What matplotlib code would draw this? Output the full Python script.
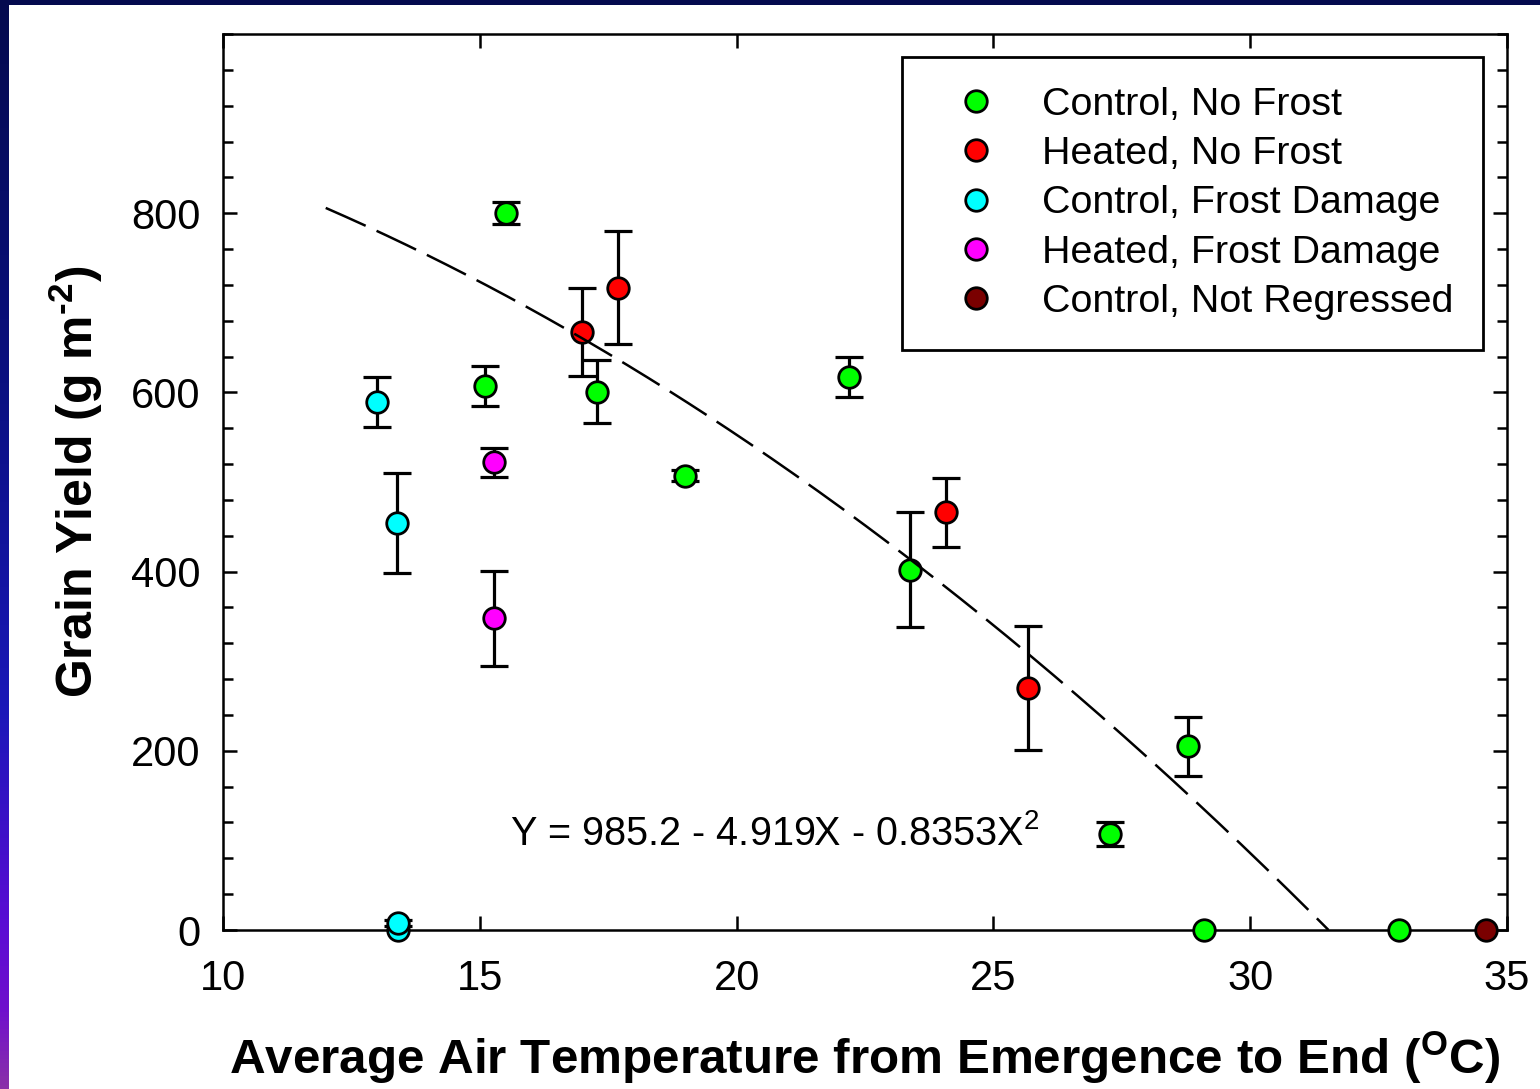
import numpy as np
import matplotlib
matplotlib.use("Agg")
import matplotlib.pyplot as plt
from matplotlib.colors import LinearSegmentedColormap
from matplotlib.patches import Rectangle

plt.rcParams['font.family'] = ['Liberation Sans', 'DejaVu Sans']
plt.rcParams['mathtext.fontset'] = 'custom'
plt.rcParams['mathtext.rm'] = 'Liberation Sans'
plt.rcParams['mathtext.bf'] = 'Liberation Sans:bold'

# --- data: temperature (°C), grain yield (g m-2), error (g m-2) ---
ctrl_nf_x = [15.51, 15.10, 17.28, 19.00, 22.19, 23.38, 28.79, 27.27, 29.10, 32.90]
ctrl_nf_y = [800, 607, 601, 507, 617, 402, 205, 107, 0, 0]
ctrl_nf_err = [12, 22, 35, 6, 22, 64, 33, 13, 0, 0]

heat_nf_x = [16.99, 17.69, 24.08, 25.67]
heat_nf_y = [667, 717, 466, 270]
heat_nf_err = [49, 63, 38, 69]

ctrl_fd_x = [13.40, 13.00, 13.39, 13.41]
ctrl_fd_y = [0, 589, 454, 8]
ctrl_fd_err = [0, 28, 56, 3]

heat_fd_x = [15.28, 15.28]
heat_fd_y = [522, 348]
heat_fd_err = [16, 53]

notreg_x = [34.59]
notreg_y = [0]
notreg_err = [0]

# quadratic fit coefficients: Y = a + b X + c X^2
fit_a, fit_b, fit_c = 985.2, -4.919, -0.8353
fit_x_start = 12.0

series = [
    ("Control, No Frost", ctrl_nf_x, ctrl_nf_y, ctrl_nf_err, "#00ff00"),
    ("Heated, No Frost", heat_nf_x, heat_nf_y, heat_nf_err, "#ff0000"),
    ("Control, Frost Damage", ctrl_fd_x, ctrl_fd_y, ctrl_fd_err, "#00ffff"),
    ("Heated, Frost Damage", heat_fd_x, heat_fd_y, heat_fd_err, "#ff00ff"),
    ("Control, Not Regressed", notreg_x, notreg_y, notreg_err, "#7a0000"),
]

W, H = 1540, 1089
fig = plt.figure(figsize=(W / 100, H / 100), dpi=100, facecolor="white")

# decorative frame strips (top bar and gradient left bar)
grad = LinearSegmentedColormap.from_list(
    "edge", [(0.0, "#040a4e"), (0.35, "#0a1080"), (0.65, "#1a18b8"),
             (0.85, "#5a0cd4"), (0.93, "#7010cc"), (1.0, "#8a30a8")])
edge_ax = fig.add_axes([0, 0, 9 / W, 1])
edge_ax.imshow(np.linspace(0, 1, 256)[:, None], cmap=grad, aspect="auto",
               extent=[0, 1, 0, 1], origin="upper")
edge_ax.set_axis_off()
fig.patches.append(Rectangle((0, 1 - 5 / H), 1, 5 / H, transform=fig.transFigure,
                             facecolor="#040a4e", edgecolor="none", zorder=0))

ax = fig.add_axes([223 / W, (H - 930) / H, (1507 - 223) / W, (930 - 34) / H])

handles = []
for label, xs, ys, es, color in series:
    xs = np.asarray(xs, float)
    ys = np.asarray(ys, float)
    es = np.asarray(es, float)
    has_err = es > 0
    if has_err.any():
        ax.errorbar(xs[has_err], ys[has_err], yerr=es[has_err], fmt="none",
                    ecolor="black", elinewidth=2.3, capsize=10, capthick=2.3,
                    zorder=3, clip_on=False)
    h, = ax.plot(xs, ys, linestyle="none", marker="o", markersize=15.5,
                 markerfacecolor=color, markeredgecolor="black",
                 markeredgewidth=2.0, zorder=4, clip_on=False, label=label)
    handles.append(h)

# regression curve, from start temperature to the zero crossing
root = (-fit_b - np.sqrt(fit_b ** 2 - 4 * fit_c * fit_a)) / (2 * fit_c)
xf = np.linspace(fit_x_start, root, 300)
yf = fit_a + fit_b * xf + fit_c * xf ** 2
ax.plot(xf, yf, color="black", linewidth=1.8, linestyle=(0, (17.5, 4.8)), zorder=5)

ax.text(15.59, 95, r"Y = 985.2 - 4.919X - 0.8353X$^{\mathrm{2}}$", fontsize=28.5,
        ha="left", va="baseline", zorder=6)

ax.set_xlim(10, 35)
ax.set_ylim(0, 1000)
ax.set_xticks(np.arange(10, 36, 5))
ax.set_yticks(np.arange(0, 801, 200))
ax.set_yticks(np.arange(0, 1001, 40), minor=True)
ax.tick_params(axis="both", which="both", direction="in", top=True, right=True,
               width=1.8, labelsize=30)
ax.tick_params(axis="y", which="both", pad=16)
ax.tick_params(axis="x", which="both", pad=21)
ax.tick_params(axis="both", which="major", length=10)
ax.tick_params(axis="y", which="minor", length=7)
for sp in ax.spines.values():
    sp.set_linewidth(1.8)
    sp.set_zorder(2)

ax.set_xlabel(r"Average Air Temperature from Emergence to End ($^{\mathbf{O}}$C)",
              fontsize=35.6, fontweight="bold")
ax.xaxis.set_label_coords(0.5, -0.1618)
ax.xaxis.label.set_verticalalignment("baseline")
ax.set_ylabel("Grain Yield (g m$^{\\mathbf{\u2010 2}}$)", fontsize=36, fontweight="bold")
ax.yaxis.set_label_coords(-0.101, 0.5)
ax.yaxis.label.set_verticalalignment("baseline")

leg = ax.legend(handles=handles, loc="upper right",
                bbox_to_anchor=((1483 - 223) / (1507 - 223), (930 - 57) / 896),
                fontsize=28.4, frameon=True, fancybox=False, framealpha=1,
                edgecolor="black", borderpad=0.75, labelspacing=0.34,
                handlelength=2.28, handletextpad=0.53, borderaxespad=0)
leg.get_frame().set_linewidth(2.0)
leg.set_zorder(10)

fig.savefig("out.png", dpi=100, facecolor="white")
